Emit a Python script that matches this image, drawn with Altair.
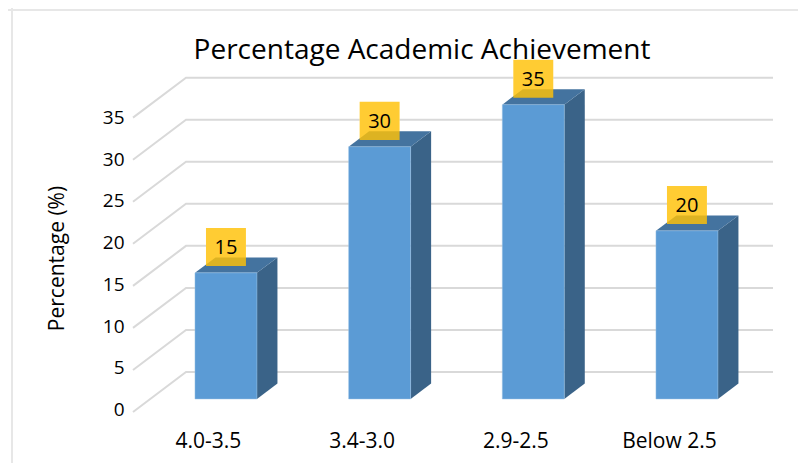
import altair as alt
import pandas as pd

categories = ["4.0-3.5", "3.4-3.0", "2.9-2.5", "Below 2.5"]
values = [15, 30, 35, 20]
grid_levels = [0, 5, 10, 15, 20, 25, 30, 35]
title_text = "Percentage Academic Achievement"
y_title = "Percentage (%)"

FONT = "Open Sans"
# 3-D depth of the pseudo-perspective, in data units
DEPTH_X = 0.1334
DEPTH_Y = 1.83
HALF_W = 0.2017
X_DOM = [-0.605, 3.56]
Y_DOM = [-1.546, 43.876]
Y_AXIS_DOM = [-0.3, 45.5]
FLOOR_LOW = -1.546
FLOOR_HIGH = 3.21
WALL_X = -0.26

x_scale = alt.Scale(domain=X_DOM, nice=False, zero=False)
y_scale = alt.Scale(domain=Y_DOM, nice=False, zero=False)
y_axis_scale = alt.Scale(domain=Y_AXIS_DOM, nice=False, zero=False)

grid_rows, side_rows, top_rows, front_rows, label_rows = [], [], [], [], []
for lv in grid_levels:
    grid_rows += [
        {"level": lv, "x": X_DOM[0], "y": lv + FLOOR_LOW},
        {"level": lv, "x": WALL_X, "y": lv + FLOOR_HIGH},
        {"level": lv, "x": X_DOM[1], "y": lv + FLOOR_HIGH},
    ]
for i, v in enumerate(values):
    xl, xr = i - HALF_W, i + HALF_W
    front_rows.append({"x": xl, "x2": xr, "y": 0, "y2": v})
    side_rows += [
        {"bar": i, "x": xr, "y": 0, "y2": v},
        {"bar": i, "x": xr + DEPTH_X, "y": DEPTH_Y, "y2": v + DEPTH_Y},
    ]
    top_rows += [
        {"bar": i, "x": xl, "y": v, "y2": v},
        {"bar": i, "x": xl + DEPTH_X, "y": v, "y2": v + DEPTH_Y},
        {"bar": i, "x": xr, "y": v, "y2": v + DEPTH_Y},
        {"bar": i, "x": xr + DEPTH_X, "y": v + DEPTH_Y, "y2": v + DEPTH_Y},
    ]
    label_rows.append({"x": i - 0.13, "x2": i + 0.13, "y": v + 0.81, "y2": v + 5.33,
                       "xc": i, "yc": v + 2.9, "label": str(v)})

grid_df = pd.DataFrame(grid_rows)
side_df = pd.DataFrame(side_rows)
top_df = pd.DataFrame(top_rows)
front_df = pd.DataFrame(front_rows)
label_df = pd.DataFrame(label_rows)
axis_df = pd.DataFrame({"i": list(range(len(categories))), "v": values})

label_expr = "[" + ",".join(f"'{c}'" for c in categories) + "][datum.value]"

X = alt.X("x:Q", scale=x_scale, axis=None)
Y = alt.Y("y:Q", scale=y_scale, axis=None, stack=None)

grid = alt.Chart(grid_df).mark_line(color="#D9D9D9", strokeWidth=2).encode(
    x=X, y=Y, detail="level:N", order="x:Q")
white = alt.Chart(label_df).mark_rect(color="white").encode(x=X, x2="x2:Q", y=Y, y2="y2:Q")
side = alt.Chart(side_df).mark_area(color="#3A6388", orient="vertical", interpolate="linear").encode(
    x=X, y=Y, y2="y2:Q", detail="bar:N")
top = alt.Chart(top_df).mark_area(color="#44739F", orient="vertical", interpolate="linear").encode(
    x=X, y=Y, y2="y2:Q", detail="bar:N")
front = alt.Chart(front_df).mark_rect(color="#5B9BD5", stroke="#9DC3E6", strokeWidth=0.8,
                                      strokeOpacity=0.6).encode(
    x=X, x2="x2:Q", y=Y, y2="y2:Q")
box = alt.Chart(label_df).mark_rect(color="#FFC106", opacity=0.82).encode(
    x=X, x2="x2:Q", y=Y, y2="y2:Q")
text = alt.Chart(label_df).mark_text(font=FONT, fontSize=20, color="black").encode(
    x=alt.X("xc:Q", scale=x_scale, axis=None),
    y=alt.Y("yc:Q", scale=y_scale, axis=None),
    text="label:N")

axes = alt.Chart(axis_df).mark_point(opacity=0).encode(
    x=alt.X("i:Q", scale=x_scale, axis=alt.Axis(
        values=list(range(len(categories))), labelExpr=label_expr, title=None,
        domain=False, ticks=False, grid=False, labelFont=FONT, labelFontSize=21,
        labelColor="black", labelPadding=18, labelOverlap=False, labelFlush=False,
        labelOffset=-18)),
    y=alt.Y("v:Q", scale=y_axis_scale, axis=alt.Axis(
        values=grid_levels, title=y_title, domain=False, ticks=False, grid=False,
        labelFont=FONT, labelFontSize=19, labelColor="black", labelPadding=9,
        titleFont=FONT, titleFontSize=21, titleFontWeight="normal", titleColor="black",
        titleX=-66, titleY=228)),
)

frame_h = alt.Chart(pd.DataFrame({"a": [0]})).mark_rule(color="#E7E7E7", strokeWidth=2).encode(
    x=alt.value(-125), x2=alt.value(665), y=alt.value(-20))
frame_v = alt.Chart(pd.DataFrame({"a": [0]})).mark_rule(color="#E7E7E7", strokeWidth=2).encode(
    x=alt.value(-121), y=alt.value(-22), y2=alt.value(433))

chart = alt.layer(
    frame_h, frame_v, grid, white, side, top, front, box, text, axes
).resolve_scale(x="independent", y="independent").properties(
    width=640, height=382,
    padding={"left": 125, "top": 22, "right": 25, "bottom": 51},
    autosize=alt.AutoSizeParams(type="none"),
    title=alt.TitleParams(title_text, font=FONT, fontSize=28, fontWeight="normal",
                          color="black", anchor="middle", dx=-31, dy=62),
).configure_view(stroke=None)

chart.save("out.html", embed_options={"renderer": "svg", "actions": False})
